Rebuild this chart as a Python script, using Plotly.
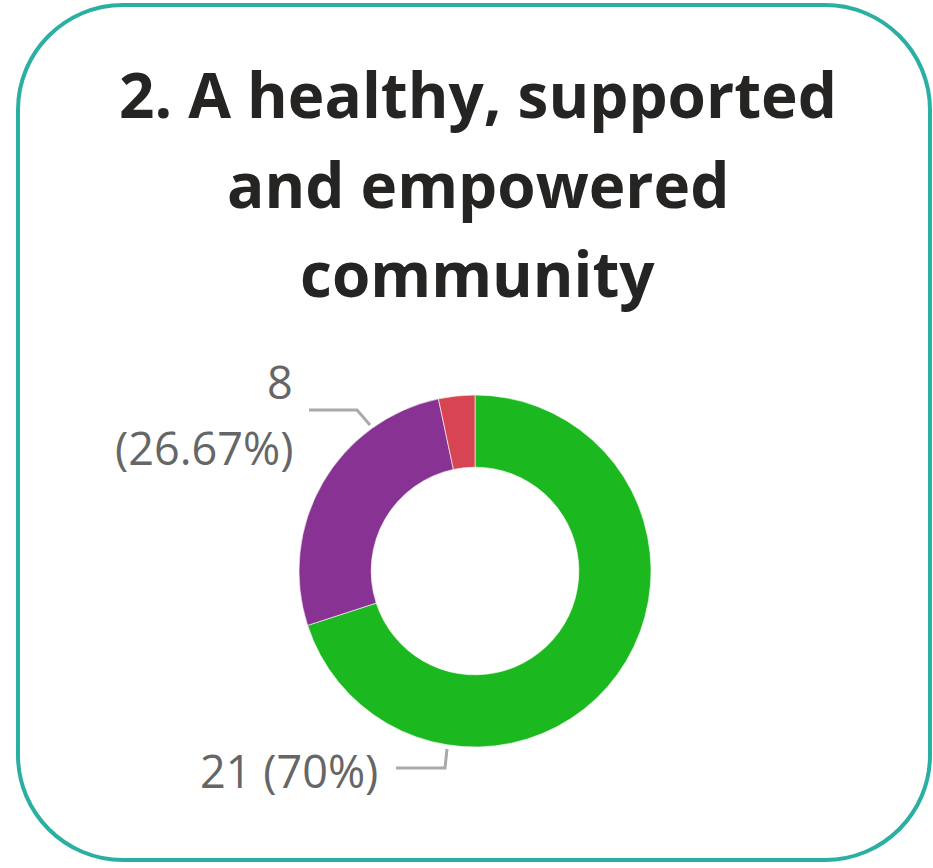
import plotly.graph_objects as go

# ---- data ----
categories = ["Green", "Purple", "Red"]
values = [21, 8, 1]
colors = ["#1BB81F", "#883394", "#D84552"]
title_lines = ["2. A healthy, supported", "and empowered", "community"]

W, H = 933, 868

def px(x):
    return x / W

def py(y):
    return 1 - y / H

total = sum(values)

def pct(v):
    p = round(v / total * 100, 2)
    s = f"{p:.2f}".rstrip("0").rstrip(".")
    return s + "%"

fig = go.Figure()

cx, cy, r = 475, 571, 176
fig.add_trace(go.Pie(
    labels=categories,
    values=values,
    marker=dict(colors=colors, line=dict(color="white", width=0.6)),
    hole=0.59,
    sort=False,
    direction="clockwise",
    rotation=0,
    textinfo="none",
    hoverinfo="label+value+percent",
    showlegend=False,
    domain=dict(x=[px(cx - r), px(cx + r)], y=[py(cy + r), py(cy - r)]),
))

annotations = []
# title lines
title_y = [94, 184, 273]
for t, yy in zip(title_lines, title_y):
    annotations.append(dict(
        text=f"<b>{t}</b>", x=px(478), y=py(yy), xref="paper", yref="paper",
        xanchor="center", yanchor="middle", showarrow=False,
        font=dict(family="Open Sans", size=62, color="#252423"),
    ))

label_font = dict(family="Open Sans", size=45, color="#666666")
# purple label (two lines)
annotations.append(dict(
    text=f"{values[1]}", x=px(295), y=py(382), xref="paper", yref="paper",
    xanchor="right", yanchor="middle", showarrow=False, font=label_font,
))
annotations.append(dict(
    text=f"({pct(values[1])})", x=px(295), y=py(447), xref="paper", yref="paper",
    xanchor="right", yanchor="middle", showarrow=False, font=label_font,
))
# green label
annotations.append(dict(
    text=f"{values[0]} ({pct(values[0])})", x=px(380), y=py(770), xref="paper", yref="paper",
    xanchor="right", yanchor="middle", showarrow=False, font=label_font,
))

shapes = []
line_style = dict(color="#AAAAAA", width=3)
# leader lines
shapes.append(dict(type="path", xref="paper", yref="paper",
                   path=f"M {px(309)} {py(410)} L {px(357)} {py(410)} L {px(370)} {py(425)}",
                   line=line_style))
shapes.append(dict(type="path", xref="paper", yref="paper",
                   path=f"M {px(396)} {py(768)} L {px(445)} {py(768)} L {px(447)} {py(749)}",
                   line=line_style))

# rounded border
L, T, R, B, rad = 18, 5, 930, 860, 105
k = 0.5523 * rad
path = (
    f"M {px(L + rad)} {py(T)} L {px(R - rad)} {py(T)} "
    f"C {px(R - rad + k)} {py(T)} {px(R)} {py(T + rad - k)} {px(R)} {py(T + rad)} "
    f"L {px(R)} {py(B - rad)} "
    f"C {px(R)} {py(B - rad + k)} {px(R - rad + k)} {py(B)} {px(R - rad)} {py(B)} "
    f"L {px(L + rad)} {py(B)} "
    f"C {px(L + rad - k)} {py(B)} {px(L)} {py(B - rad + k)} {px(L)} {py(B - rad)} "
    f"L {px(L)} {py(T + rad)} "
    f"C {px(L)} {py(T + rad - k)} {px(L + rad - k)} {py(T)} {px(L + rad)} {py(T)} Z"
)
shapes.append(dict(type="path", xref="paper", yref="paper", path=path,
                   line=dict(color="#2BAFA3", width=4), layer="below"))

fig.update_layout(
    width=W, height=H,
    margin=dict(l=0, r=0, t=0, b=0),
    paper_bgcolor="white", plot_bgcolor="white",
    annotations=annotations, shapes=shapes,
)

fig.write_html("out.html")
